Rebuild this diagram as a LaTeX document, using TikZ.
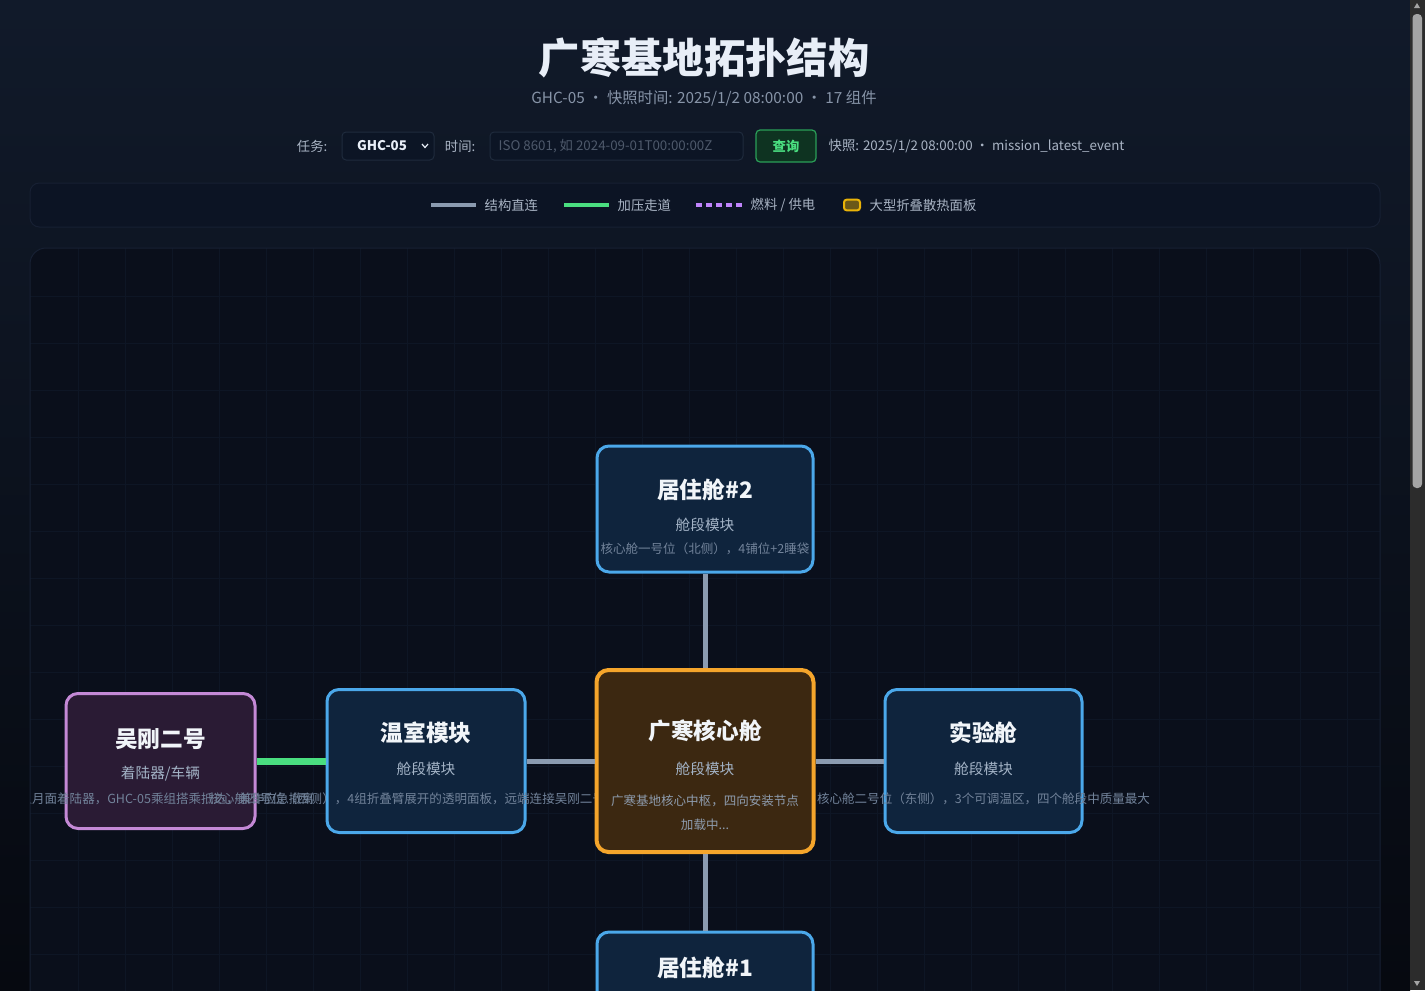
\documentclass[tikz,border=0pt]{standalone}
\usepackage{fontspec}
\setmainfont{Noto Sans CJK SC}
\usetikzlibrary{positioning, calc}

\definecolor{pagetop}{HTML}{111A2A}
\definecolor{pagebot}{HTML}{060910}
\definecolor{panelfill}{HTML}{0A0F1B}
\definecolor{panelline}{HTML}{172033}
\definecolor{gridline}{HTML}{0E1625}
\definecolor{legendfill}{HTML}{0C1424}
\definecolor{ctrlfill}{HTML}{0C1525}
\definecolor{ctrlline}{HTML}{1F2B3D}
\definecolor{btnfill}{HTML}{0E3321}
\definecolor{btnline}{HTML}{2A9F58}
\definecolor{btntext}{HTML}{4ADE80}
\definecolor{headtext}{HTML}{E8EEF7}
\definecolor{subtext}{HTML}{8794A8}
\definecolor{labeltext}{HTML}{A9B4C4}
\definecolor{holdtext}{HTML}{4E596B}
\definecolor{modfill}{HTML}{0F243D}
\definecolor{modline}{HTML}{4BA8EA}
\definecolor{corefill}{HTML}{3C2811}
\definecolor{coreline}{HTML}{F5A52B}
\definecolor{landerfill}{HTML}{2A1B34}
\definecolor{landerline}{HTML}{C489D6}
\definecolor{titletext}{HTML}{F1F5F9}
\definecolor{kindtext}{HTML}{A3B3C6}
\definecolor{desctext}{HTML}{72839A}
\definecolor{linkgray}{HTML}{8B9BB0}
\definecolor{corrgreen}{HTML}{4ADE80}
\definecolor{fuelpurple}{HTML}{C084FC}
\definecolor{panelyellow}{HTML}{EAB308}
\definecolor{panelbrown}{HTML}{6B5718}
\definecolor{scrolltrack}{HTML}{2C2C2C}
\definecolor{scrollthumb}{HTML}{A4A4A4}

\tikzset{
  module/.style={draw=modline, fill=modfill, line width=2.25pt, rounded corners=9pt, inner sep=0pt},
  title/.style={font=\bfseries\fontsize{17}{20}\selectfont, text=titletext},
  kind/.style={font=\fontsize{11}{13}\selectfont, text=kindtext},
  desc/.style={font=\fontsize{9.4}{18}\selectfont, text=desctext},
  ctrl/.style={font=\fontsize{10}{12}\selectfont, text=labeltext},
  link/.style={line width=3.75pt, draw=linkgray},
  corridor/.style={line width=5.25pt, draw=corrgreen},
}

\begin{document}
\begin{tikzpicture}[x=0.75pt,y=-0.75pt]
\useasboundingbox (0,0) rectangle (1425,990);
\clip (0,0) rectangle (1425,990);

% page and scrollbar
\shade[top color=pagetop, bottom color=pagebot] (0,0) rectangle (1410,990);
\fill[scrolltrack] (1410,0) rectangle (1425,990);
\fill[scrollthumb, rounded corners=3pt] (1412.5,14) rectangle (1422,488);
\fill[scrollthumb] (1414,8) -- (1420,8) -- (1417,3) -- cycle;
\fill[scrollthumb] (1414,981) -- (1420,981) -- (1417,986) -- cycle;

% heading
\node[font=\bfseries\fontsize{31}{36}\selectfont, text=headtext] (head) at (704,58) {广寒基地拓扑结构};
\node[font=\fontsize{11.5}{14}\selectfont, text=subtext] (subhead) at (704,98) {GHC-05 · 快照时间: 2025/1/2 08:00:00 · 17 组件};

% query bar
\node[ctrl, anchor=east] (tasklbl) at (332,146) {任务:};
\node[draw=ctrlline, fill=ctrlfill, line width=0.75pt, rounded corners=3pt, minimum width=69pt, minimum height=21pt] (taskbox) at (388,146) {};
\node[font=\bfseries\fontsize{10}{12}\selectfont, text=headtext] (taskval) at (382,146) {GHC-05};
\draw[headtext, line width=0.9pt] (422,144) -- (425,147.5) -- (428,144);
\node[ctrl, anchor=east] (timelbl) at (480,146) {时间:};
\node[draw=ctrlline, fill=ctrlfill, line width=0.75pt, rounded corners=3pt, minimum width=189.75pt, minimum height=21pt] (timebox) at (616.5,146) {};
\node[font=\fontsize{10}{12}\selectfont, text=holdtext, anchor=west] (timehint) at (494,146) {ISO 8601, 如 2024-09-01T00:00:00Z};
\node[draw=btnline, fill=btnfill, line width=0.9pt, rounded corners=3pt, minimum width=45pt, minimum height=24pt, font=\bfseries\fontsize{10}{12}\selectfont, text=btntext] (query) at (786,146) {查询};
\node[ctrl, anchor=west] (snap) at (824,146) {快照: 2025/1/2 08:00:00 · mission\_latest\_event};

% legend
\node[draw=panelline, fill=legendfill, line width=0.75pt, rounded corners=7pt, minimum width=1012.5pt, minimum height=33pt] (legend) at (705,205) {};
\coordinate (l1a) at (431,205); \coordinate (l1b) at (476,205);
\draw[line width=2.6pt, linkgray] (l1a) -- (l1b);
\node[ctrl, anchor=west] (l1t) at (480,205) {结构直连};
\coordinate (l2a) at (564,205); \coordinate (l2b) at (609,205);
\draw[line width=2.6pt, corrgreen] (l2a) -- (l2b);
\node[ctrl, anchor=west] (l2t) at (613,205) {加压走道};
\coordinate (l3a) at (696,205); \coordinate (l3b) at (742,205);
\draw[line width=2.6pt, fuelpurple, dash pattern=on 4.5pt off 3pt] (l3a) -- (l3b);
\node[ctrl, anchor=west] (l3t) at (746,205) {燃料 / 供电};
\node[draw=panelyellow, fill=panelbrown, line width=1.5pt, rounded corners=2pt, minimum width=12pt, minimum height=8pt, inner sep=0pt] (l4box) at (852,205) {};
\node[ctrl, anchor=west] (l4t) at (865,205) {大型折叠散热面板};

% topology panel
\begin{scope}
\path[clip, rounded corners=12pt] (30,248) rectangle (1380,1010);
\fill[panelfill] (30,248) rectangle (1380,1010);
\foreach \gx in {78,125,...,1380} \draw[gridline, line width=0.75pt] (\gx,248) -- (\gx,1010);
\foreach \gy in {296,343,...,1010} \draw[gridline, line width=0.75pt] (30,\gy) -- (1380,\gy);

% lander
\node[module, draw=landerline, fill=landerfill, minimum width=141.75pt, minimum height=101.25pt] (wugang) at (160.5,761) {};
\node[title] (wugangT) at (160.5,739) {吴刚二号};
\node[kind] (wugangK) at (160.5,774) {着陆器/车辆};
\node[desc] (wugangD) at (160.5,799) {载人月面着陆器，GHC-05乘组搭乘抵达，兼作应急撤离};

% greenhouse
\node[module, minimum width=148.5pt, minimum height=107.25pt] (green) at (426,761) {};
\node[title] (greenT) at (426,733) {温室模块};
\node[kind] (greenK) at (426,769) {舱段模块};
\node[desc] (greenD) at (426,799) {核心舱四号位（西侧），4组折叠臂展开的透明面板，远端连接吴刚二号着陆器};

% core
\node[module, draw=coreline, fill=corefill, line width=3pt, minimum width=162.75pt, minimum height=136.5pt] (core) at (705,761) {};
\node[title] (coreT) at (705,731) {广寒核心舱};
\node[kind] (coreK) at (705,769) {舱段模块};
\node[desc, text=desctext!80!white, align=center] (coreD) at (705,813) {广寒基地核心中枢，四向安装节点\\加载中...};

% lab
\node[module, minimum width=147.75pt, minimum height=107.25pt] (lab) at (983.5,761) {};
\node[title] (labT) at (983.5,733) {实验舱};
\node[kind] (labK) at (983.5,769) {舱段模块};
\node[desc] (labD) at (983.5,799) {核心舱二号位（东侧），3个可调温区，四个舱段中质量最大};

% habitat 2
\node[module, minimum width=162pt, minimum height=94.5pt] (hab2) at (705,509) {};
\node[title] (hab2T) at (705,490) {居住舱\#2};
\node[kind] (hab2K) at (705,525) {舱段模块};
\node[desc] (hab2D) at (705,549) {核心舱一号位（北侧），4铺位+2睡袋};

% habitat 1
\node[module, minimum width=162pt, minimum height=94.5pt] (hab1) at (705,995) {};
\node[title] (hab1T) at (705,968) {居住舱\#1};

% connectors
\draw[link] (hab2) -- (core);
\draw[link] (core) -- (hab1);
\draw[link] (green) -- (core);
\draw[link] (core) -- (lab);
\draw[corridor] (wugang) -- (green);
\end{scope}
\draw[panelline, line width=0.75pt, rounded corners=12pt] (30,1010) -- (30,248) -- (1380,248) -- (1380,1010);
\end{tikzpicture}
\end{document}
